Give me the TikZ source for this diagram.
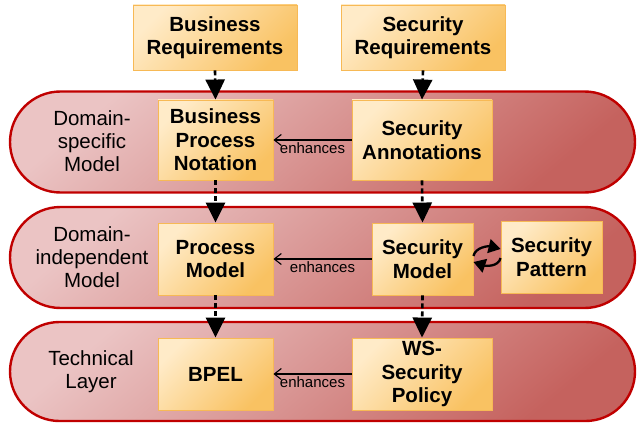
\documentclass[tikz,border=0pt]{standalone}
\usepackage{fontspec}
\setmainfont{Liberation Sans}
\usetikzlibrary{arrows.meta,shapes.misc}

\definecolor{laneborder}{HTML}{C00000}
\definecolor{lanelight}{HTML}{EBC4C4}
\definecolor{lanedark}{HTML}{C5625E}
\definecolor{boxborder}{HTML}{F7B955}
\definecolor{boxlight}{HTML}{FFEBC8}
\definecolor{boxdark}{HTML}{F9C262}

\tikzset{
  lane/.style={rounded rectangle, draw=laneborder, line width=2.4pt,
    top color=lanelight, bottom color=lanedark, shading angle=40,
    minimum width=625pt, inner sep=0pt},
  lanelabel/.style={align=center, font=\fontsize{20.5}{23}\selectfont, inner sep=0pt},
  box/.style={draw=boxborder, line width=0.9pt,
    top color=boxlight, bottom color=boxdark, shading angle=45,
    align=center, inner sep=0pt,
    font=\bfseries\fontsize{20.5}{23.5}\selectfont},
  flow/.style={line width=2.6pt, dash pattern=on 5pt off 3pt,
    -{Triangle[width=19pt,length=20pt]}},
  enh/.style={line width=1.1pt, -{Straight Barb[width=11pt,length=7pt,line width=1.1pt]}},
  enhlabel/.style={font=\fontsize{15}{16}\selectfont, below, inner sep=1pt, yshift=-1pt},
  cycle/.style={line width=2.3pt, -{Triangle[width=14pt,length=12pt]}}
}

\begin{document}
\begin{tikzpicture}[x=1pt, y=-1pt]
  \useasboundingbox (0,0) rectangle (637,425);

  % swim lanes
  \node[lane, minimum height=101pt] (lane1) at (322.5,142) {};
  \node[lane, minimum height=101pt] (lane2) at (322.5,257.5) {};
  \node[lane, minimum height=99pt]  (lane3) at (322.5,371.5) {};

  \node[lanelabel] (l1) at (92,141) {Domain-\\specific\\Model};
  \node[lanelabel] (l2) at (92,257) {Domain-\\independent\\Model};
  \node[lanelabel] (l3) at (91,372) {Technical\\Layer};

  % requirement sources
  \node[box, minimum width=164pt, minimum height=65pt] (breq) at (215,37.5) {Business\\Requirements};
  \node[box, minimum width=164pt, minimum height=65pt] (sreq) at (423,37.5) {Security\\Requirements};

  % domain-specific layer
  \node[box, minimum width=115pt, minimum height=80pt] (bpn) at (215.5,140) {Business\\Process\\Notation};
  \node[box, minimum width=140pt, minimum height=80pt] (sann) at (422,140) {Security\\Annotations};

  % domain-independent layer
  \node[box, minimum width=115pt, minimum height=72pt] (pm) at (215.5,259) {Process\\Model};
  \node[box, minimum width=101pt, minimum height=72pt] (sm) at (422.5,259) {Security\\Model};
  \node[box, minimum width=101pt, minimum height=72pt] (sp) at (551.5,257) {Security\\Pattern};

  % technical layer
  \node[box, minimum width=115pt, minimum height=72pt] (bpel) at (215.5,374) {BPEL};
  \node[box, minimum width=140pt, minimum height=72pt] (wss) at (422,374) {WS-\\Security\\Policy};

  % refinement flow
  \draw[flow] (breq.south) -- (bpn.north);
  \draw[flow] (sreq.south) -- (sann.north);
  \draw[flow] (bpn.south) -- (pm.north);
  \draw[flow] (sann.south) -- (sm.north);
  \draw[flow] (pm.south) -- (bpel.north);
  \draw[flow] (sm.south) -- (wss.north);

  % enhancement relations
  \draw[enh] (sann.west) -- node[enhlabel] {enhances} (bpn.east);
  \draw[enh] (sm.west) -- node[enhlabel] {enhances} (pm.east);
  \draw[enh] (wss.west) -- node[enhlabel] {enhances} (bpel.east);

  % exchange between security model and pattern (yshift is upwards)
  \coordinate (c1) at ([yshift=3pt]sm.east);
  \coordinate (c2) at ([yshift=8pt]sp.west);
  \coordinate (c3) at ([yshift=-1pt]sp.west);
  \coordinate (c4) at ([yshift=-3pt]sm.east);
  \draw[cycle] (c1) .. controls ([xshift=2pt,yshift=9pt]c1) and ([xshift=-12pt,yshift=3pt]c2) .. (c2);
  \draw[cycle] (c3) .. controls ([xshift=-2pt,yshift=-9pt]c3) and ([xshift=12pt,yshift=-4pt]c4) .. (c4);
\end{tikzpicture}
\end{document}
